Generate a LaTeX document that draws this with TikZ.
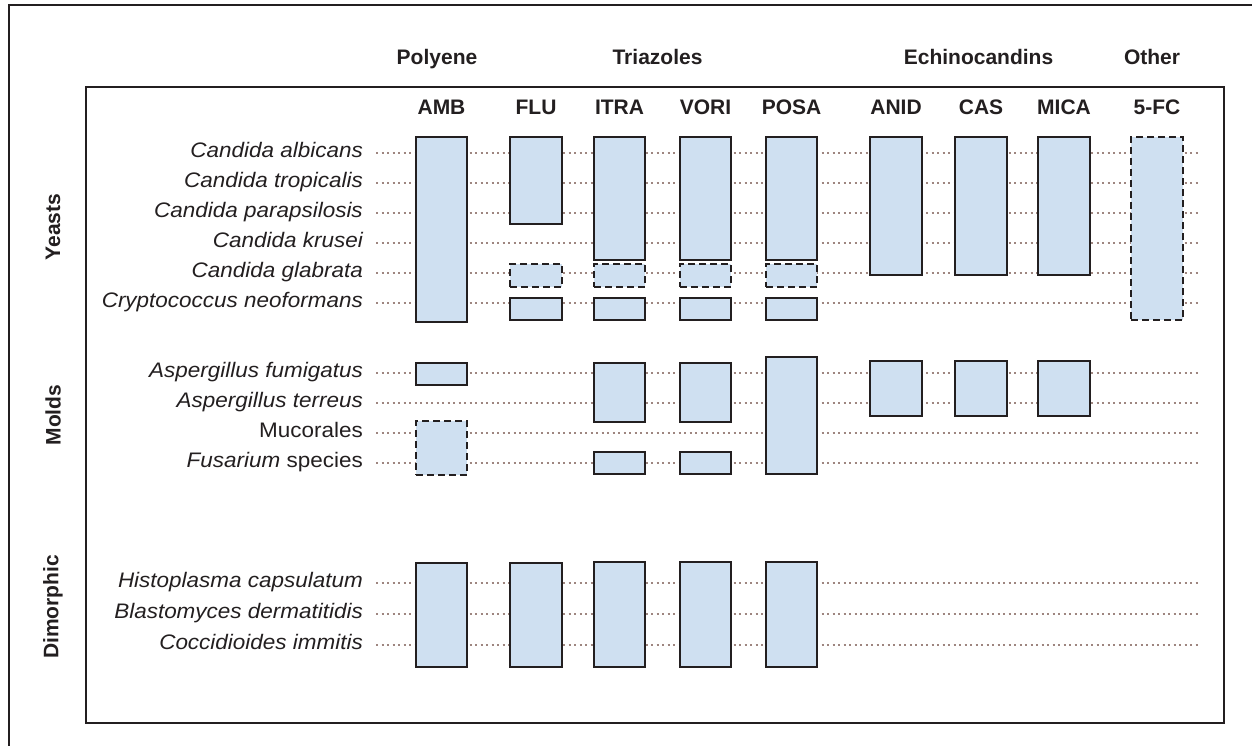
\documentclass[tikz,border=0pt]{standalone}
\usepackage{fontspec}
\setmainfont{Liberation Sans}
\newfontfamily\labfont[FakeStretch=1.07]{Liberation Sans}
\usetikzlibrary{fit}
\definecolor{boxfill}{HTML}{CFE0F1}
\definecolor{ink}{HTML}{231F20}
\definecolor{dotc}{HTML}{9E8680}
\tikzset{
  barbox/.style={draw=ink, fill=boxfill, line width=2.6pt, inner sep=0pt, outer sep=0pt},
  dashbox/.style={barbox, dash pattern=on 7pt off 4pt},
  rowline/.style={draw=dotc, line width=2.6pt, dash pattern=on 2.4pt off 3.1pt},
  taxon/.style={anchor=base east, font=\labfont\fontsize{21}{24}\selectfont, text=ink, inner sep=0pt},
  colhead/.style={anchor=base, font=\bfseries\fontsize{21}{24}\selectfont, text=ink, inner sep=0pt},
  grouplabel/.style={rotate=90, font=\bfseries\fontsize{21}{24}\selectfont, text=ink, inner sep=0pt},
  frameline/.style={draw=ink, line width=2.7pt},
  innerframe/.style={draw=ink, line width=1.4pt}
}
\begin{document}
\begin{tikzpicture}[x=1pt, y=-1pt]
\useasboundingbox (0,0) rectangle (1252,746);
\fill[white] (0,0) rectangle (1252,746);
% frames
\draw[frameline] (9,746) -- (9,5) -- (1252,5);
\draw[innerframe] (86,87) rectangle (1224,723);

% group headers
\node[colhead] (gPoly) at (437,65) {Polyene};
\node[colhead] (gTri)  at (657.5,65) {Triazoles};
\node[colhead] (gEch)  at (978.5,65) {Echinocandins};
\node[colhead] (gOth)  at (1152,65) {Other};

% column headers
\node[colhead] (hAMB)  at (441.5,115) {AMB};
\node[colhead] (hFLU)  at (536,115) {FLU};
\node[colhead] (hITRA) at (619.5,115) {ITRA};
\node[colhead] (hVORI) at (705.5,115) {VORI};
\node[colhead] (hPOSA) at (791.5,115) {POSA};
\node[colhead] (hANID) at (896,115) {ANID};
\node[colhead] (hCAS)  at (981,115) {CAS};
\node[colhead] (hMICA) at (1064,115) {MICA};
\node[colhead] (hFC)   at (1157,115) {5-FC};

% group labels
\node[grouplabel] (gY) at (53,227) {Yeasts};
\node[grouplabel] (gM) at (53,415) {Molds};
\node[grouplabel] (gD) at (53,607) {Dimorphic};

% row lines
\foreach \n/\y in {ca/153,ct/183,cp/213,ck/243,cg/273,cn/303,af/373,at/403,mu/433,fs/463,hc/583,bd/614,ci/645}{
  \coordinate (\n-s) at (376,\y);
  \coordinate (\n-e) at (1200,\y);
  \draw[rowline] (\n-s) -- (\n-e);
}

% taxon labels
\node[taxon] (ca-lab) at (363,157.5) {\itshape Candida albicans};
\node[taxon] (ct-lab) at (363,187.5) {\itshape Candida tropicalis};
\node[taxon] (cp-lab) at (363,217.5) {\itshape Candida parapsilosis};
\node[taxon] (ck-lab) at (363,247.5) {\itshape Candida krusei};
\node[taxon] (cg-lab) at (363,277.5) {\itshape Candida glabrata};
\node[taxon] (cn-lab) at (363,307.5) {\itshape Cryptococcus neoformans};
\node[taxon] (af-lab) at (363,377.5) {\itshape Aspergillus fumigatus};
\node[taxon] (at-lab) at (363,407.5) {\itshape Aspergillus terreus};
\node[taxon] (mu-lab) at (363,437.5) {Mucorales};
\node[taxon] (fs-lab) at (363,467.5) {{\itshape Fusarium} species};
\node[taxon] (hc-lab) at (363,587.5) {\itshape Histoplasma capsulatum};
\node[taxon] (bd-lab) at (363,618.5) {\itshape Blastomyces dermatitidis};
\node[taxon] (ci-lab) at (363,649.5) {\itshape Coccidioides immitis};

% AMB
\node[barbox,  fit={(416,137) (467,322)}] (ambY) {};
\node[barbox,  fit={(416,363) (467,385)}] (ambAf) {};
\node[dashbox, fit={(416,421) (467,475)}] (ambMu) {};
\node[barbox,  fit={(416,563) (467,667)}] (ambD) {};
% FLU
\node[barbox,  fit={(510,137) (562,224)}] (fluY) {};
\node[dashbox, fit={(510,264) (562,287)}] (fluCg) {};
\node[barbox,  fit={(510,298) (562,320)}] (fluCn) {};
\node[barbox,  fit={(510,563) (562,667)}] (fluD) {};
% ITRA
\node[barbox,  fit={(594,137) (645,260)}] (itrY) {};
\node[dashbox, fit={(594,264) (645,287)}] (itrCg) {};
\node[barbox,  fit={(594,298) (645,320)}] (itrCn) {};
\node[barbox,  fit={(594,363) (645,422)}] (itrM) {};
\node[barbox,  fit={(594,452) (645,474)}] (itrFs) {};
\node[barbox,  fit={(594,562) (645,667)}] (itrD) {};
% VORI
\node[barbox,  fit={(680,137) (731,260)}] (vorY) {};
\node[dashbox, fit={(680,264) (731,287)}] (vorCg) {};
\node[barbox,  fit={(680,298) (731,320)}] (vorCn) {};
\node[barbox,  fit={(680,363) (731,422)}] (vorM) {};
\node[barbox,  fit={(680,452) (731,474)}] (vorFs) {};
\node[barbox,  fit={(680,562) (731,667)}] (vorD) {};
% POSA
\node[barbox,  fit={(766,137) (817,260)}] (posY) {};
\node[dashbox, fit={(766,264) (817,287)}] (posCg) {};
\node[barbox,  fit={(766,298) (817,320)}] (posCn) {};
\node[barbox,  fit={(766,357) (817,474)}] (posM) {};
\node[barbox,  fit={(766,562) (817,667)}] (posD) {};
% ANID
\node[barbox,  fit={(870,137) (922,275)}] (aniY) {};
\node[barbox,  fit={(870,361) (922,416)}] (aniM) {};
% CAS
\node[barbox,  fit={(955,137) (1007,275)}] (casY) {};
\node[barbox,  fit={(955,361) (1007,416)}] (casM) {};
% MICA
\node[barbox,  fit={(1038,137) (1090,275)}] (micY) {};
\node[barbox,  fit={(1038,361) (1090,416)}] (micM) {};
% 5-FC
\node[dashbox, fit={(1131,137) (1183,320)}] (fcY) {};
\end{tikzpicture}
\end{document}
